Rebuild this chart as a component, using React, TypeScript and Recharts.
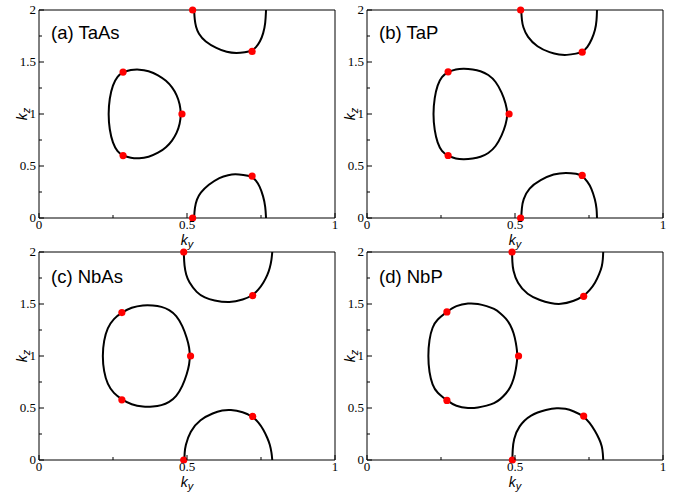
import React from 'react';
import { ScatterChart, Scatter, XAxis, YAxis } from 'recharts';

// ---------- tick values ----------
const X_TICKS = [0, 0.25, 0.5, 0.75, 1];
const Y_TICKS = [0, 0.25, 0.5, 0.75, 1, 1.25, 1.5, 1.75, 2];
const X_MAJOR = [0, 0.5, 1];
const Y_MAJOR = [0, 0.5, 1, 1.5, 2];

const TITLES = ['(a) TaAs', '(b) TaP', '(c) NbAs', '(d) NbP'];

// ---------- (a) TaAs ----------
const taAsLoop = [
  { x: 0.234, y: 1.0 }, { x: 0.238, y: 1.15 }, { x: 0.249, y: 1.28 }, { x: 0.265, y: 1.365 },
  { x: 0.284, y: 1.403 }, { x: 0.31, y: 1.425 }, { x: 0.338, y: 1.43 }, { x: 0.37, y: 1.415 },
  { x: 0.403, y: 1.375 }, { x: 0.43, y: 1.32 }, { x: 0.45, y: 1.258 }, { x: 0.466, y: 1.18 },
  { x: 0.476, y: 1.095 }, { x: 0.48, y: 1.0 }, { x: 0.476, y: 0.905 }, { x: 0.466, y: 0.82 },
  { x: 0.45, y: 0.742 }, { x: 0.43, y: 0.68 }, { x: 0.403, y: 0.625 }, { x: 0.37, y: 0.585 },
  { x: 0.338, y: 0.572 }, { x: 0.31, y: 0.577 }, { x: 0.284, y: 0.598 }, { x: 0.265, y: 0.636 },
  { x: 0.249, y: 0.72 }, { x: 0.238, y: 0.85 },
];
const taAsUpper = [
  { x: 0.524, y: 2.0 }, { x: 0.526, y: 1.9 }, { x: 0.53, y: 1.84 }, { x: 0.538, y: 1.775 },
  { x: 0.561, y: 1.695 }, { x: 0.6, y: 1.632 }, { x: 0.634, y: 1.593 }, { x: 0.668, y: 1.583 },
  { x: 0.696, y: 1.593 }, { x: 0.719, y: 1.606 }, { x: 0.733, y: 1.64 }, { x: 0.747, y: 1.695 },
  { x: 0.758, y: 1.775 }, { x: 0.765, y: 1.871 }, { x: 0.767, y: 2.0 },
];
const taAsLower = [
  { x: 0.524, y: 0.0 }, { x: 0.526, y: 0.1 }, { x: 0.533, y: 0.18 }, { x: 0.544, y: 0.24 },
  { x: 0.572, y: 0.32 }, { x: 0.611, y: 0.393 }, { x: 0.64, y: 0.414 }, { x: 0.662, y: 0.422 },
  { x: 0.69, y: 0.415 }, { x: 0.719, y: 0.402 }, { x: 0.733, y: 0.36 }, { x: 0.745, y: 0.31 },
  { x: 0.758, y: 0.207 }, { x: 0.765, y: 0.11 }, { x: 0.767, y: 0.0 },
];
const taAsDots = [
  { x: 0.519, y: 2.0 }, { x: 0.72, y: 1.602 }, { x: 0.284, y: 1.403 }, { x: 0.483, y: 1.0 },
  { x: 0.284, y: 0.6 }, { x: 0.72, y: 0.403 }, { x: 0.519, y: 0.0 },
];

// ---------- (b) TaP ----------
const taPLoop = [
  { x: 0.223, y: 1.0 }, { x: 0.228, y: 1.16 }, { x: 0.238, y: 1.28 }, { x: 0.252, y: 1.36 },
  { x: 0.274, y: 1.406 }, { x: 0.3, y: 1.432 }, { x: 0.327, y: 1.438 }, { x: 0.358, y: 1.43 },
  { x: 0.383, y: 1.415 }, { x: 0.41, y: 1.38 }, { x: 0.435, y: 1.315 }, { x: 0.456, y: 1.205 },
  { x: 0.469, y: 1.1 }, { x: 0.476, y: 1.0 }, { x: 0.469, y: 0.9 }, { x: 0.456, y: 0.795 },
  { x: 0.435, y: 0.685 }, { x: 0.41, y: 0.62 }, { x: 0.383, y: 0.585 }, { x: 0.358, y: 0.57 },
  { x: 0.327, y: 0.562 }, { x: 0.3, y: 0.568 }, { x: 0.274, y: 0.596 }, { x: 0.252, y: 0.64 },
  { x: 0.238, y: 0.72 }, { x: 0.228, y: 0.84 },
];
const taPUpper = [
  { x: 0.521, y: 2.0 }, { x: 0.523, y: 1.9 }, { x: 0.527, y: 1.837 }, { x: 0.541, y: 1.741 },
  { x: 0.574, y: 1.645 }, { x: 0.619, y: 1.588 }, { x: 0.65, y: 1.57 }, { x: 0.673, y: 1.565 },
  { x: 0.709, y: 1.581 }, { x: 0.727, y: 1.594 }, { x: 0.745, y: 1.64 }, { x: 0.76, y: 1.72 },
  { x: 0.771, y: 1.805 }, { x: 0.776, y: 1.9 }, { x: 0.777, y: 2.0 },
];
const taPLower = [
  { x: 0.521, y: 0.0 }, { x: 0.523, y: 0.1 }, { x: 0.527, y: 0.176 }, { x: 0.546, y: 0.288 },
  { x: 0.586, y: 0.367 }, { x: 0.631, y: 0.425 }, { x: 0.673, y: 0.438 }, { x: 0.709, y: 0.425 },
  { x: 0.727, y: 0.409 }, { x: 0.745, y: 0.35 }, { x: 0.758, y: 0.29 }, { x: 0.771, y: 0.176 },
  { x: 0.776, y: 0.09 }, { x: 0.777, y: 0.0 },
];
const taPDots = [
  { x: 0.519, y: 2.0 }, { x: 0.727, y: 1.594 }, { x: 0.274, y: 1.406 }, { x: 0.48, y: 1.0 },
  { x: 0.274, y: 0.601 }, { x: 0.727, y: 0.409 }, { x: 0.519, y: 0.0 },
];

// ---------- (c) NbAs ----------
const nbAsLoop = [
  { x: 0.214, y: 1.0 }, { x: 0.219, y: 1.15 }, { x: 0.231, y: 1.27 }, { x: 0.252, y: 1.36 },
  { x: 0.28, y: 1.418 }, { x: 0.312, y: 1.468 }, { x: 0.352, y: 1.491 }, { x: 0.385, y: 1.488 },
  { x: 0.414, y: 1.475 }, { x: 0.44, y: 1.445 }, { x: 0.464, y: 1.39 }, { x: 0.485, y: 1.29 },
  { x: 0.5, y: 1.17 }, { x: 0.508, y: 1.08 }, { x: 0.51, y: 1.0 }, { x: 0.508, y: 0.92 },
  { x: 0.5, y: 0.83 }, { x: 0.485, y: 0.71 }, { x: 0.464, y: 0.61 }, { x: 0.44, y: 0.555 },
  { x: 0.414, y: 0.525 }, { x: 0.385, y: 0.512 }, { x: 0.352, y: 0.509 }, { x: 0.312, y: 0.532 },
  { x: 0.28, y: 0.582 }, { x: 0.252, y: 0.64 }, { x: 0.231, y: 0.73 }, { x: 0.219, y: 0.85 },
];
const nbAsUpper = [
  { x: 0.489, y: 2.0 }, { x: 0.491, y: 1.862 }, { x: 0.497, y: 1.78 }, { x: 0.505, y: 1.718 },
  { x: 0.533, y: 1.606 }, { x: 0.56, y: 1.56 }, { x: 0.589, y: 1.533 }, { x: 0.645, y: 1.51 },
  { x: 0.69, y: 1.542 }, { x: 0.722, y: 1.581 }, { x: 0.742, y: 1.64 }, { x: 0.758, y: 1.702 },
  { x: 0.772, y: 1.78 }, { x: 0.78, y: 1.846 }, { x: 0.786, y: 1.93 }, { x: 0.788, y: 2.0 },
];
const nbAsLower = [
  { x: 0.491, y: 0.0 }, { x: 0.492, y: 0.07 }, { x: 0.494, y: 0.134 }, { x: 0.51, y: 0.278 },
  { x: 0.544, y: 0.39 }, { x: 0.589, y: 0.454 }, { x: 0.62, y: 0.478 }, { x: 0.645, y: 0.486 },
  { x: 0.69, y: 0.462 }, { x: 0.722, y: 0.419 }, { x: 0.742, y: 0.36 }, { x: 0.758, y: 0.294 },
  { x: 0.772, y: 0.21 }, { x: 0.78, y: 0.15 }, { x: 0.786, y: 0.07 }, { x: 0.788, y: 0.0 },
];
const nbAsDots = [
  { x: 0.489, y: 2.0 }, { x: 0.722, y: 1.581 }, { x: 0.28, y: 1.418 }, { x: 0.512, y: 1.0 },
  { x: 0.28, y: 0.579 }, { x: 0.722, y: 0.419 }, { x: 0.489, y: 0.0 },
];

// ---------- (d) NbP ----------
const nbPLoop = [
  { x: 0.206, y: 1.0 }, { x: 0.21, y: 1.16 }, { x: 0.221, y: 1.28 }, { x: 0.236, y: 1.35 },
  { x: 0.27, y: 1.424 }, { x: 0.3, y: 1.485 }, { x: 0.343, y: 1.51 }, { x: 0.375, y: 1.503 },
  { x: 0.405, y: 1.48 }, { x: 0.43, y: 1.455 }, { x: 0.45, y: 1.414 }, { x: 0.47, y: 1.36 },
  { x: 0.484, y: 1.302 }, { x: 0.496, y: 1.22 }, { x: 0.503, y: 1.13 }, { x: 0.507, y: 1.05 },
  { x: 0.508, y: 1.0 }, { x: 0.507, y: 0.95 }, { x: 0.503, y: 0.87 }, { x: 0.496, y: 0.78 },
  { x: 0.484, y: 0.694 }, { x: 0.47, y: 0.64 }, { x: 0.45, y: 0.582 }, { x: 0.43, y: 0.545 },
  { x: 0.405, y: 0.522 }, { x: 0.375, y: 0.503 }, { x: 0.343, y: 0.496 }, { x: 0.3, y: 0.515 },
  { x: 0.27, y: 0.573 }, { x: 0.236, y: 0.646 }, { x: 0.221, y: 0.72 }, { x: 0.21, y: 0.84 },
];
const nbPUpper = [
  { x: 0.49, y: 2.0 }, { x: 0.491, y: 1.9 }, { x: 0.493, y: 1.83 }, { x: 0.507, y: 1.702 },
  { x: 0.541, y: 1.59 }, { x: 0.586, y: 1.533 }, { x: 0.62, y: 1.508 }, { x: 0.653, y: 1.494 },
  { x: 0.698, y: 1.526 }, { x: 0.732, y: 1.574 }, { x: 0.752, y: 1.63 }, { x: 0.771, y: 1.702 },
  { x: 0.785, y: 1.79 }, { x: 0.794, y: 1.862 }, { x: 0.797, y: 1.93 }, { x: 0.798, y: 2.0 },
];
const nbPLower = [
  { x: 0.491, y: 0.0 }, { x: 0.492, y: 0.1 }, { x: 0.495, y: 0.198 }, { x: 0.512, y: 0.326 },
  { x: 0.552, y: 0.438 }, { x: 0.608, y: 0.486 }, { x: 0.642, y: 0.502 }, { x: 0.67, y: 0.495 },
  { x: 0.698, y: 0.47 }, { x: 0.732, y: 0.422 }, { x: 0.752, y: 0.36 }, { x: 0.771, y: 0.278 },
  { x: 0.785, y: 0.2 }, { x: 0.794, y: 0.134 }, { x: 0.797, y: 0.06 }, { x: 0.798, y: 0.0 },
];
const nbPDots = [
  { x: 0.49, y: 2.0 }, { x: 0.732, y: 1.574 }, { x: 0.27, y: 1.424 }, { x: 0.512, y: 1.0 },
  { x: 0.27, y: 0.573 }, { x: 0.732, y: 0.422 }, { x: 0.491, y: 0.0 },
];

// ---------- styling ----------
const FRAME = '#000';
const SERIF = '"Liberation Serif", "Times New Roman", serif';
const SANS = '"Liberation Sans", Arial, sans-serif';
const CHART_W = 341;
const CHART_H = 250;
// axes take 1px each; the plot area is x 39..335, y 10..218 inside each chart
const MARGIN = { top: 9, right: 5, bottom: 31, left: 38 };

const isMajor = (v: number, majors: number[]) => majors.some((m) => Math.abs(m - v) < 1e-9);
const fmt = (v: number) => String(v);

const BottomTick = (props: any) => {
  const { x, y, payload } = props;
  const major = isMajor(payload.value, X_MAJOR);
  return (
    <g>
      <line x1={x} y1={y} x2={x} y2={y - (major ? 5 : 3)} stroke={FRAME} strokeWidth={1} />
      {major && (
        <text x={x} y={y + 11} textAnchor="middle" fontFamily={SERIF} fontSize={13} fill="#000">
          {fmt(payload.value)}
        </text>
      )}
    </g>
  );
};
const TopTick = (props: any) => {
  const { x, y, payload } = props;
  const major = isMajor(payload.value, X_MAJOR);
  return <line x1={x} y1={y} x2={x} y2={y + (major ? 5 : 3)} stroke={FRAME} strokeWidth={1} />;
};
const LeftTick = (props: any) => {
  const { x, y, payload } = props;
  const major = isMajor(payload.value, Y_MAJOR);
  return (
    <g>
      <line x1={x} y1={y} x2={x + (major ? 5 : 3)} y2={y} stroke={FRAME} strokeWidth={1} />
      {major && (
        <text x={x - 3} y={y + 4.3} textAnchor="end" fontFamily={SERIF} fontSize={13} fill="#000">
          {fmt(payload.value)}
        </text>
      )}
    </g>
  );
};
const RightTick = (props: any) => {
  const { x, y, payload } = props;
  const major = isMajor(payload.value, Y_MAJOR);
  return <line x1={x} y1={y} x2={x - (major ? 5 : 3)} y2={y} stroke={FRAME} strokeWidth={1} />;
};

const NoShape = () => <g />;
const RedDot = (props: any) => <circle cx={props.cx} cy={props.cy} r={3.6} fill="#ff0000" />;

const kyLabel = (props: any) => {
  const vb = props.viewBox || {};
  const cx = vb.x + vb.width / 2;
  const y = vb.y + 26.5;
  return (
    <text x={cx} y={y} textAnchor="middle" fontFamily={SANS} fontStyle="italic" fontSize={14} fill="#000">
      k
      <tspan fontSize={11} dy={3}>y</tspan>
    </text>
  );
};

const makeLeftLabel = (title: string, titleDy: number) => (props: any) => {
  const vb = props.viewBox || {};
  const x0 = vb.x + vb.width;
  const y0 = vb.y;
  const h = vb.height;
  return (
    <g>
      <text x={x0 + 12} y={y0 + titleDy} fontFamily={SANS} fontSize={18.5} fill="#000">
        {title}
      </text>
      <g transform={`translate(${x0 - 12.5}, ${y0 + h / 2})`}>
        <text transform="rotate(-90)" x={0} y={0} textAnchor="middle" fontFamily={SANS} fontStyle="italic" fontSize={14} fill="#000">
          k
          <tspan fontSize={11} dy={3}>z</tspan>
        </text>
      </g>
    </g>
  );
};

type Pt = { x: number; y: number };

function Panel(props: {
  left: number;
  top: number;
  title: string;
  titleDy: number;
  loop: Pt[];
  upper: Pt[];
  lower: Pt[];
  dots: Pt[];
}) {
  const { left, top, title, titleDy, loop, upper, lower, dots } = props;
  const lineStyle = { stroke: '#000', strokeWidth: 2, fill: 'none' };
  const axisLine = { stroke: FRAME, strokeWidth: 1 };
  return (
    <div style={{ position: 'absolute', left, top }}>
      <ScatterChart width={CHART_W} height={CHART_H} margin={MARGIN}>
        <XAxis
          type="number"
          dataKey="x"
          domain={[0, 1]}
          ticks={X_TICKS}
          interval={0}
          height={1}
          tickSize={0}
          tickMargin={0}
          tickLine={false}
          axisLine={axisLine}
          tick={BottomTick}
          label={kyLabel}
        />
        <XAxis
          xAxisId="top"
          orientation="top"
          type="number"
          domain={[0, 1]}
          ticks={X_TICKS}
          interval={0}
          height={1}
          tickSize={0}
          tickMargin={0}
          tickLine={false}
          axisLine={axisLine}
          tick={TopTick}
        />
        <YAxis
          type="number"
          dataKey="y"
          domain={[0, 2]}
          ticks={Y_TICKS}
          interval={0}
          width={1}
          tickSize={0}
          tickMargin={0}
          tickLine={false}
          axisLine={axisLine}
          tick={LeftTick}
          label={makeLeftLabel(title, titleDy)}
        />
        <YAxis
          yAxisId="right"
          orientation="right"
          type="number"
          domain={[0, 2]}
          ticks={Y_TICKS}
          interval={0}
          width={1}
          tickSize={0}
          tickMargin={0}
          tickLine={false}
          axisLine={axisLine}
          tick={RightTick}
        />
        <Scatter data={loop} line={lineStyle} lineJointType="basisClosed" shape={NoShape} isAnimationActive={false} />
        <Scatter data={upper} line={lineStyle} lineJointType="basis" shape={NoShape} isAnimationActive={false} />
        <Scatter data={lower} line={lineStyle} lineJointType="basis" shape={NoShape} isAnimationActive={false} />
        <Scatter data={dots} shape={RedDot} isAnimationActive={false} />
      </ScatterChart>
    </div>
  );
}

export default function App() {
  return (
    <div style={{ position: 'absolute', left: 0, top: 0, width: 683, height: 496, background: '#fff', overflow: 'hidden' }}>
      <Panel left={0} top={0} title={TITLES[0]} titleDy={29} loop={taAsLoop} upper={taAsUpper} lower={taAsLower} dots={taAsDots} />
      <Panel left={328} top={0} title={TITLES[1]} titleDy={29} loop={taPLoop} upper={taPUpper} lower={taPLower} dots={taPDots} />
      <Panel left={0} top={242} title={TITLES[2]} titleDy={31} loop={nbAsLoop} upper={nbAsUpper} lower={nbAsLower} dots={nbAsDots} />
      <Panel left={328} top={242} title={TITLES[3]} titleDy={31} loop={nbPLoop} upper={nbPUpper} lower={nbPLower} dots={nbPDots} />
    </div>
  );
}
